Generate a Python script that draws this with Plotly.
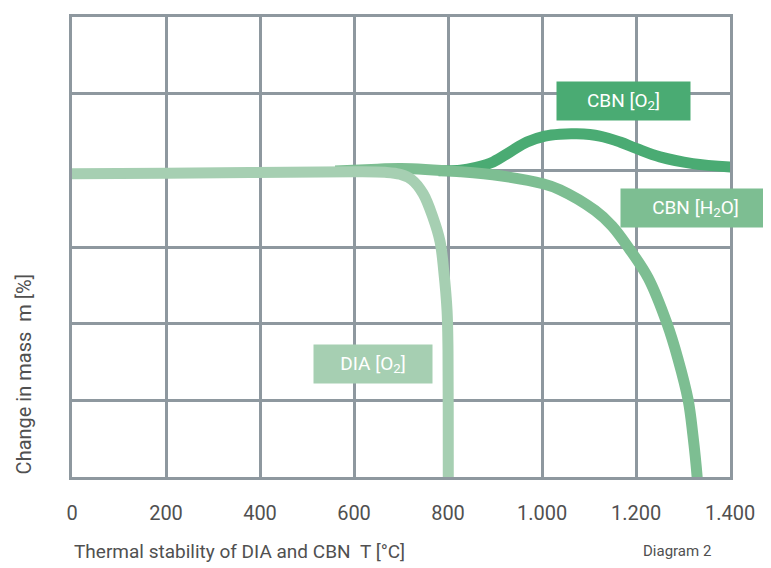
import plotly.graph_objects as go

# Temperature [°C] and change in mass (grid units, 0 = bottom gridline, 6 = top)
dia_t = [-10, 200, 600, 666, 698, 723, 747, 768, 783, 791, 798, 800, 800.6, 801]
dia_m = [3.955, 3.961, 3.981, 3.974, 3.948, 3.877, 3.696, 3.385, 3.074, 2.686, 2.168, 1.65, 0.0, -0.2]

h2o_t = [560, 650, 700, 826, 911, 1002, 1038, 1113, 1149, 1185, 1226, 1266, 1289, 1311, 1321, 1330, 1332]
h2o_m = [3.99, 4.015, 4.025, 3.981, 3.929, 3.825, 3.748, 3.476, 3.275, 2.983, 2.595, 2.0, 1.547, 1.003, 0.55, 0.006, -0.2]

o2_t = [780, 826, 860, 896, 932, 968, 1006, 1038, 1074, 1123, 1166, 1202, 1251, 1321, 1410]
o2_m = [3.995, 4.0, 4.04, 4.11, 4.24, 4.37, 4.447, 4.472, 4.476, 4.447, 4.37, 4.282, 4.175, 4.088, 4.04]

x_ticks = [0, 200, 400, 600, 800, 1000, 1200, 1400]
x_tick_labels = ["0", "200", "400", "600", "800", "1.000", "1.200", "1.400"]

labels = ["DIA [O<sub>2</sub>]", "CBN [H<sub>2</sub>O]", "CBN [O<sub>2</sub>]"]
label_t = [640, 1327, 1173]
label_m = [1.469, 3.515, 4.9]
label_w = [118, 149, 133]

c_dia = "#a6cfb2"
c_h2o = "#7dbe92"
c_o2 = "#4aab73"
colors = [c_dia, c_h2o, c_o2]
grid = "#8e989f"
txt_col = "#505050"
FONT = "Roboto, sans-serif"

fig = go.Figure()
# drawing order: CBN [O2] at the bottom, then CBN [H2O], DIA [O2] on top
fig.add_trace(go.Scatter(x=o2_t, y=o2_m, mode="lines",
                         line=dict(color=c_o2, width=11, shape="spline", smoothing=1.0)))
fig.add_trace(go.Scatter(x=h2o_t, y=h2o_m, mode="lines",
                         line=dict(color=c_h2o, width=11, shape="spline", smoothing=1.0)))
fig.add_trace(go.Scatter(x=dia_t, y=dia_m, mode="lines",
                         line=dict(color=c_dia, width=11, shape="spline", smoothing=1.0)))

for txt, t, m, w, c in zip(labels, label_t, label_m, label_w, colors):
    fig.add_annotation(x=t, y=m, xref="x", yref="y", text=txt, showarrow=False,
                       bgcolor=c, width=w, height=38, borderpad=0,
                       font=dict(family=FONT, size=19, color="white"))

fig.add_annotation(x=0, y=-0.163, xref="paper", yref="paper", xanchor="left", yanchor="middle",
                   text="Thermal stability of DIA and CBN \u00a0T [°C]", showarrow=False,
                   font=dict(family=FONT, size=19, color=txt_col))
fig.add_annotation(x=0.974, y=-0.16, xref="paper", yref="paper", xanchor="right", yanchor="middle",
                   text="Diagram 2", showarrow=False,
                   font=dict(family=FONT, size=15, color=txt_col))
fig.add_annotation(x=-0.073, y=0.223, xref="paper", yref="paper", xanchor="center", yanchor="middle",
                   text="Change in mass \u00a0m [%]", textangle=-90, showarrow=False,
                   font=dict(family=FONT, size=20, color=txt_col))

# The page body has an 8 px margin, so the figure is 8 px smaller each way.
fig.update_layout(
    width=763, height=560,
    margin=dict(l=64, r=41, t=6, b=90.5),
    plot_bgcolor="white", paper_bgcolor="white",
    showlegend=False,
)
fig.update_xaxes(range=[0, 1400], tickvals=x_ticks, ticktext=x_tick_labels,
                 showgrid=True, gridcolor=grid, gridwidth=2.5, zeroline=False,
                 showline=True, linecolor=grid, linewidth=2.5, mirror=True,
                 ticks="", ticklabelstandoff=16,
                 tickfont=dict(family=FONT, size=20, color=txt_col))
fig.update_yaxes(range=[0, 6], dtick=1, showticklabels=False,
                 showgrid=True, gridcolor=grid, gridwidth=2.5, zeroline=False,
                 showline=True, linecolor=grid, linewidth=2.5, mirror=True, ticks="")

fig.write_html("out.html")
